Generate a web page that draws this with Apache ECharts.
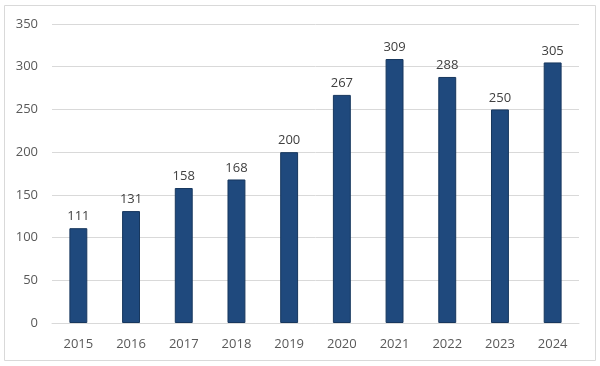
<!DOCTYPE html>
<html><head><meta charset="utf-8">
<script src="https://cdn.jsdelivr.net/npm/echarts@6/dist/echarts.min.js"></script>
<style>html,body{margin:0;padding:0;background:#fff}#c{width:600px;height:366px}</style>
</head><body><div id="c"></div>
<script>
const years = ['2015','2016','2017','2018','2019','2020','2021','2022','2023','2024'];
const values = [111,131,158,168,200,267,309,288,250,305];
const yTicks = {min:0, max:350, interval:50};

const chart = echarts.init(document.getElementById('c'), null, {renderer:'canvas'});
chart.setOption({
  animation:false,
  graphic:[{type:'rect', shape:{x:4.5,y:5.5,width:591,height:355}, style:{fill:'none', stroke:'#d9d9d9', lineWidth:1}, silent:true}],
  grid:{left:52, right:21, top:24, bottom:43},
  xAxis:{type:'category', data:years,
    axisLine:{lineStyle:{color:'#d9d9d9'}}, axisTick:{show:false},
    axisLabel:{color:'#595959', fontSize:13, fontFamily:'Open Sans, Noto Sans, sans-serif', margin:15}},
  yAxis:{type:'value', min:yTicks.min, max:yTicks.max, interval:yTicks.interval,
    axisLine:{show:false}, axisTick:{show:false},
    splitLine:{lineStyle:{color:'#d9d9d9'}},
    axisLabel:{color:'#595959', fontSize:13, fontFamily:'Open Sans, Noto Sans, sans-serif', margin:14}},
  series:[{type:'bar', data:values, barWidth:'34%',
    itemStyle:{color:'#1f497d', borderColor:'#17375e', borderWidth:1},
    label:{show:true, position:'top', distance:5, color:'#404040', fontSize:13, fontFamily:'Open Sans, Noto Sans, sans-serif'}}]
});
</script></body></html>
